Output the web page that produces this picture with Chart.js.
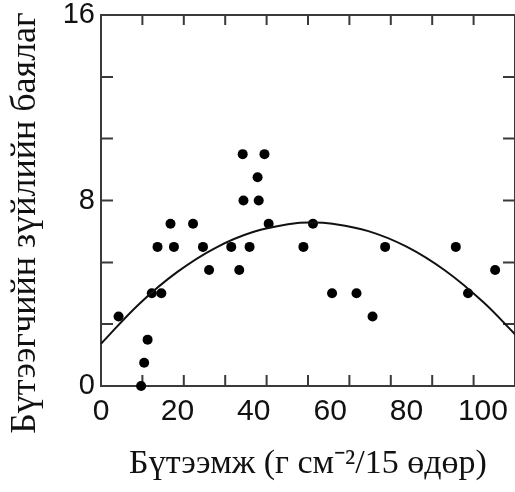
<!DOCTYPE html>
<html><head><meta charset="utf-8">
<script src="https://cdn.jsdelivr.net/npm/chart.js@4/dist/chart.umd.min.js"></script>
<style>
html,body{margin:0;padding:0;background:#fff;overflow:hidden;width:515px;height:492px}
#wrap{position:relative;width:520px;height:492px}
</style>
</head><body>
<div id="wrap"><canvas id="c"></canvas></div>
<script>
// Scatter observations (productivity, species richness)
const pointX = [4.6, 10.5, 11.3, 12.2, 13.3, 15.8, 14.8, 18.2, 19.1, 24.1, 26.7, 28.3, 34.1, 36.2, 38.9,
                37.3, 41.3, 43.9, 37.1, 42.8, 41.0, 53.0, 55.5, 60.5, 66.9, 71.1, 74.4, 92.9, 96.1, 103.2];
const pointY = [3, 0, 1, 2, 4, 4, 6, 7, 6, 7, 6, 5, 6, 5, 6,
                8, 8, 7, 10, 10, 9, 6, 7, 4, 4, 3, 6, 6, 4, 5];
// Fitted hump-shaped curve
const curveX = [0, 10, 20, 30, 40, 50, 55, 60, 70, 80, 90, 100, 108.4];
const curveY = [1.82, 3.54, 4.92, 5.96, 6.65, 7.00, 7.05, 7.01, 6.68, 6.01, 4.99, 3.63, 2.23];
// Axes
const xTickLabels = [0, 20, 40, 60, 80, 100];
const yTickLabels = [0, 8, 16];
const xTickMarks = [10.84, 21.68, 32.52, 43.36, 54.2, 65.04, 75.88, 86.72, 97.56];
const yTickMarks = [2.67, 5.33, 8, 10.67, 13.33];
const xMax = 108.4;
const yMax = 16;
const xTitle = 'Бүтээмж (г см⁻²/15 өдөр)';
const yTitle = 'Бүтээгчийн зүйлийн баялаг\u00A0\u00A0\u00A0\u00A0\u00A0';

const framePlugin = {
  id: 'frame',
  beforeDatasetsDraw(chart) {
    const {ctx, chartArea: a, scales: {x, y}} = chart;
    ctx.save();
    ctx.strokeStyle = '#3a3a3a';
    ctx.lineWidth = 2;
    ctx.strokeRect(a.left, a.top, a.right - a.left, a.bottom - a.top);
    ctx.beginPath();
    xTickMarks.forEach(v => {
      const px = x.getPixelForValue(v);
      ctx.moveTo(px, a.bottom); ctx.lineTo(px, a.bottom - 11);
      ctx.moveTo(px, a.top); ctx.lineTo(px, a.top + 10);
    });
    yTickMarks.forEach(v => {
      const py = y.getPixelForValue(v);
      ctx.moveTo(a.left, py); ctx.lineTo(a.left + 12, py);
      ctx.moveTo(a.right, py); ctx.lineTo(a.right - 12, py);
    });
    ctx.stroke();
    ctx.restore();
  }
};

new Chart(document.getElementById('c'), {
  data: {
    datasets: [
      {
        type: 'line',
        data: curveX.map((v, i) => ({x: v, y: curveY[i]})),
        borderColor: '#111',
        borderWidth: 2,
        pointRadius: 0,
        tension: 0.4,
        fill: false
      },
      {
        type: 'scatter',
        data: pointX.map((v, i) => ({x: v, y: pointY[i]})),
        backgroundColor: '#000',
        borderColor: '#000',
        pointRadius: 5,
        pointBorderWidth: 0,
        clip: false
      }
    ]
  },
  options: {
    responsive: true,
    maintainAspectRatio: false,
    animation: false,
    layout: {padding: {top: 15, right: 3, left: 0, bottom: 0}},
    plugins: {legend: {display: false}, tooltip: {enabled: false}},
    scales: {
      x: {
        type: 'linear', min: 0, max: xMax,
        grid: {display: false, drawTicks: false},
        border: {display: false},
        afterBuildTicks: s => { s.ticks = xTickLabels.map(v => ({value: v})); },
        afterFit: s => { s.height = 106; s.paddingLeft = 0; s.paddingRight = 0; },
        ticks: {color: '#111', padding: 8, maxRotation: 0, font: {family: 'Liberation Sans', size: 30}},
        title: {display: true, text: xTitle, color: '#111', padding: {top: 4, bottom: 8},
                font: {family: 'Liberation Serif', size: 34}}
      },
      y: {
        type: 'linear', min: 0, max: yMax,
        grid: {display: false, drawTicks: false},
        border: {display: false},
        afterBuildTicks: s => { s.ticks = yTickLabels.map(v => ({value: v})); },
        afterFit: s => { s.width = 101; s.paddingTop = 0; s.paddingBottom = 0; },
        ticks: {color: '#111', padding: 6, font: {family: 'Liberation Sans', size: 29}},
        title: {display: true, text: yTitle, color: '#111', padding: {top: 4, bottom: 0},
                font: {family: 'Liberation Serif', size: 36}}
      }
    }
  },
  plugins: [framePlugin]
});
</script>
</body></html>
